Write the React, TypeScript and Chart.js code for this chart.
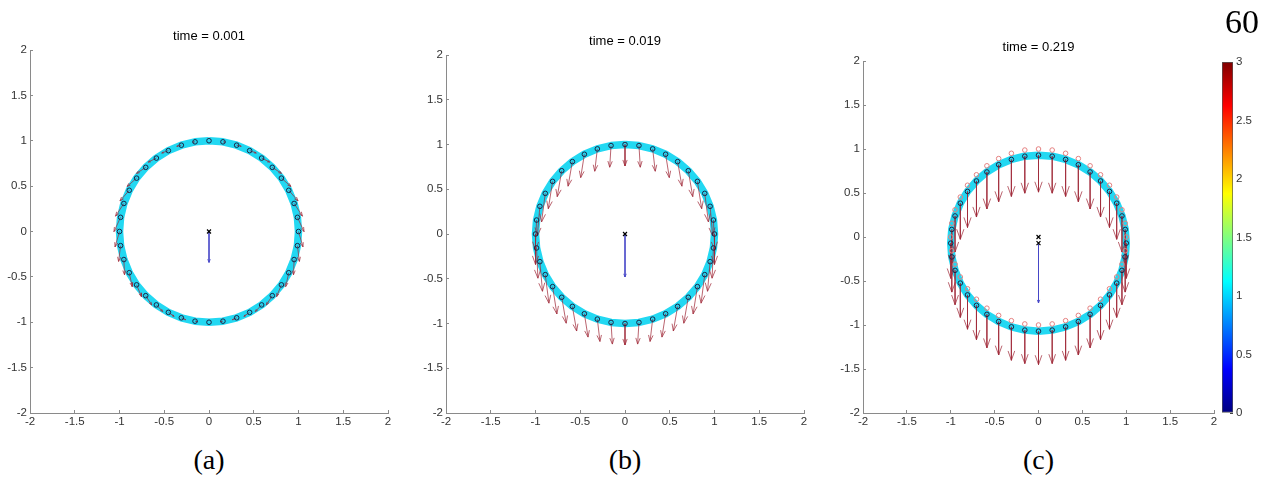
import React, { useEffect, useRef } from "react";
import { Chart, registerables } from "chart.js";

Chart.register(...registerables);

// ---------- data ----------
const AXIS_TICKS = [-2, -1.5, -1, -0.5, 0, 0.5, 1, 1.5, 2];
const CBAR_TICKS = [0, 0.5, 1, 1.5, 2, 2.5, 3];
const CBAR_VALUE = [3];
const TITLES = ["time = 0.001", "time = 0.019", "time = 0.219"];
const CAPTIONS = ["(a)", "(b)", "(c)"];
const CORNER_LABEL = "60";

// marker positions on the ring (initial, unit circle)
const ringX = [0, 0.156, 0.309, 0.454, 0.588, 0.707, 0.809, 0.891, 0.951, 0.988, 1, 0.988, 0.951, 0.891, 0.809, 0.707, 0.588, 0.454, 0.309, 0.156, 0, -0.156, -0.309, -0.454, -0.588, -0.707, -0.809, -0.891, -0.951, -0.988, -1, -0.988, -0.951, -0.891, -0.809, -0.707, -0.588, -0.454, -0.309, -0.156];
const ringY = [1, 0.988, 0.951, 0.891, 0.809, 0.707, 0.588, 0.454, 0.309, 0.156, 0, -0.156, -0.309, -0.454, -0.588, -0.707, -0.809, -0.891, -0.951, -0.988, -1, -0.988, -0.951, -0.891, -0.809, -0.707, -0.588, -0.454, -0.309, -0.156, 0, 0.156, 0.309, 0.454, 0.588, 0.707, 0.809, 0.891, 0.951, 0.988];
// ring at time 0.219 (moved down)
const ringYc = [0.93, 0.918, 0.881, 0.821, 0.739, 0.637, 0.518, 0.384, 0.239, 0.086, -0.07, -0.226, -0.379, -0.524, -0.658, -0.777, -0.879, -0.961, -1.021, -1.058, -1.07, -1.058, -1.021, -0.961, -0.879, -0.777, -0.658, -0.524, -0.379, -0.226, -0.07, 0.086, 0.239, 0.384, 0.518, 0.637, 0.739, 0.821, 0.881, 0.918];

// red arrows (vector components)
const arrowDxA = [0, 0.026, 0.051, 0.074, 0.091, 0.103, 0.107, 0.104, 0.093, 0.074, 0.05, 0.022, -0.007, -0.033, -0.054, -0.067, -0.071, -0.064, -0.049, -0.026, 0, 0.026, 0.049, 0.064, 0.071, 0.067, 0.054, 0.033, 0.007, -0.022, -0.05, -0.074, -0.093, -0.104, -0.107, -0.103, -0.091, -0.074, -0.051, -0.026];
const arrowDyA = [0, -0.003, -0.012, -0.026, -0.045, -0.067, -0.092, -0.117, -0.14, -0.158, -0.17, -0.174, -0.168, -0.153, -0.13, -0.103, -0.073, -0.044, -0.021, -0.005, 0, -0.005, -0.021, -0.044, -0.073, -0.103, -0.13, -0.153, -0.168, -0.174, -0.17, -0.158, -0.14, -0.117, -0.092, -0.067, -0.045, -0.026, -0.012, -0.003];

const arrowDxB = [0, 0.015, 0.029, 0.041, 0.048, 0.05, 0.048, 0.041, 0.029, 0.015, 0, -0.015, -0.029, -0.041, -0.048, -0.05, -0.048, -0.041, -0.029, -0.015, 0, 0.015, 0.029, 0.041, 0.048, 0.05, 0.048, 0.041, 0.029, 0.015, 0, -0.015, -0.029, -0.041, -0.048, -0.05, -0.048, -0.041, -0.029, -0.015];
const arrowDyB = [-0.24, -0.242, -0.25, -0.261, -0.275, -0.29, -0.306, -0.319, -0.331, -0.338, -0.34, -0.338, -0.331, -0.319, -0.306, -0.29, -0.275, -0.261, -0.25, -0.242, -0.24, -0.242, -0.25, -0.261, -0.275, -0.29, -0.306, -0.319, -0.331, -0.338, -0.34, -0.338, -0.331, -0.319, -0.306, -0.29, -0.275, -0.261, -0.25, -0.242];

const arrowDxC = [0, 0, 0, 0, 0, 0, 0, 0, 0, 0, 0, 0, 0, 0, 0, 0, 0, 0, 0, 0, 0, 0, 0, 0, 0, 0, 0, 0, 0, 0, 0, 0, 0, 0, 0, 0, 0, 0, 0, 0];
const arrowDyC = [-0.42, -0.42, -0.42, -0.42, -0.42, -0.41, -0.41, -0.41, -0.41, -0.4, -0.4, -0.4, -0.39, -0.39, -0.39, -0.39, -0.38, -0.38, -0.38, -0.38, -0.38, -0.38, -0.38, -0.38, -0.38, -0.39, -0.39, -0.39, -0.39, -0.4, -0.4, -0.4, -0.41, -0.41, -0.41, -0.41, -0.42, -0.42, -0.42, -0.42];

// centroid markers and centroid velocity arrows
const centroidXA = [0];
const centroidYA = [0];
const centroidXB = [0];
const centroidYB = [0];
const centroidXC = [0, 0];
const centroidYC = [0, -0.07];
const velXA = [0], velYA = [0], velDxA = [0], velDyA = [-0.34];
const velXB = [0], velYB = [0], velDxB = [0], velDyB = [-0.48];
const velXC = [0], velYC = [-0.07], velDxC = [0], velDyC = [-0.68];

// ---------- styles ----------
const FONT = "'Liberation Sans', Arial, Helvetica, sans-serif";
const SERIF = "'Liberation Serif', 'Times New Roman', serif";
const RING_COLOR = "rgb(34,216,242)";
const ARROW_COLOR = "rgba(160,40,55,0.72)";
const VEL_COLOR = "rgba(70,70,200,0.85)";
const MARKER_COLOR = "#1b2648";
const PINK = "rgb(228,128,128)";
const AXIS_COLOR = "#8a8a8a";
const TICK_TEXT = "#333";
const JET = [
  [0, "#00007F"],
  [0.125, "#0000FF"],
  [0.375, "#00FFFF"],
  [0.625, "#FFFF00"],
  [0.875, "#FF0000"],
  [1, "#7F0000"],
] as const;

type P = { x: number | null; y: number | null };

function pts(xs: number[], ys: number[]): P[] {
  return xs.map((x, i) => ({ x, y: ys[i] }));
}

function closedLoop(xs: number[], ys: number[]): P[] {
  const p = pts(xs, ys);
  p.push({ x: xs[0], y: ys[0] });
  return p;
}

function arrows(
  xs: number[], ys: number[], dxs: number[], dys: number[],
  headFrac: number, widthFrac: number, fixedHead?: [number, number]
): P[] {
  const out: P[] = [];
  for (let i = 0; i < xs.length; i++) {
    const dx = dxs[i], dy = dys[i];
    const L = Math.hypot(dx, dy);
    if (L < 1e-6) continue;
    const x0 = xs[i], y0 = ys[i];
    const x1 = x0 + dx, y1 = y0 + dy;
    const ux = dx / L, uy = dy / L;
    const hl = fixedHead ? fixedHead[0] : headFrac * L;
    const hw = fixedHead ? fixedHead[1] : widthFrac * L;
    const bx = x1 - ux * hl, by = y1 - uy * hl;
    const px = -uy, py = ux;
    out.push(
      { x: x0, y: y0 }, { x: x1, y: y1 }, { x: null, y: null },
      { x: bx + px * hw, y: by + py * hw }, { x: x1, y: y1 },
      { x: bx - px * hw, y: by - py * hw }, { x: null, y: null }
    );
  }
  return out;
}

type PanelSpec = {
  title: string;
  caption: string;
  plotLeft: number;
  plotRight: number;
  plotTop: number;
  titleY: number;
  ringYs: number[];
  dx: number[];
  dy: number[];
  cx: number[];
  cy: number[];
  vel: [number[], number[], number[], number[]];
  pink: boolean;
};

const PLOT_BOTTOM = 413;
const Y_AXIS_W = 30;
const X_AXIS_H = 27;
const RIGHT_PAD = 22;

const PANELS: PanelSpec[] = [
  { title: TITLES[0], caption: CAPTIONS[0], plotLeft: 30, plotRight: 388, plotTop: 50, titleY: 36, ringYs: ringY, dx: arrowDxA, dy: arrowDyA, cx: centroidXA, cy: centroidYA, vel: [velXA, velYA, velDxA, velDyA], pink: false },
  { title: TITLES[1], caption: CAPTIONS[1], plotLeft: 446, plotRight: 804, plotTop: 55, titleY: 41, ringYs: ringY, dx: arrowDxB, dy: arrowDyB, cx: centroidXB, cy: centroidYB, vel: [velXB, velYB, velDxB, velDyB], pink: false },
  { title: TITLES[2], caption: CAPTIONS[2], plotLeft: 863, plotRight: 1214, plotTop: 61, titleY: 47, ringYs: ringYc, dx: arrowDxC, dy: arrowDyC, cx: centroidXC, cy: centroidYC, vel: [velXC, velYC, velDxC, velDyC], pink: true },
];

function axisCommon(isX: boolean): any {
  return {
    type: "linear",
    min: -2,
    max: 2,
    z: 1,
    afterBuildTicks: (s: any) => {
      s.ticks = AXIS_TICKS.map((v) => ({ value: v }));
    },
    afterFit: (s: any) => {
      if (isX) s.height = X_AXIS_H;
      else s.width = Y_AXIS_W;
    },
    ticks: {
      callback: (v: any) => String(v),
      font: { family: FONT, size: 11.5 },
      color: TICK_TEXT,
      padding: isX ? 5 : 6,
      autoSkip: false,
      maxRotation: 0,
      minRotation: 0,
    },
    grid: { drawOnChartArea: false, drawTicks: true, tickLength: -3, color: AXIS_COLOR, lineWidth: 1 },
    border: { display: true, color: AXIS_COLOR, width: 1 },
  };
}

function panelConfig(sp: PanelSpec): any {
  const lineH = 13 * 1.2;
  const datasets: any[] = [
    {
      label: "ring",
      data: closedLoop(ringX, sp.ringYs),
      borderColor: RING_COLOR,
      borderWidth: 7.5,
      pointRadius: 0,
      tension: 0,
      borderJoinStyle: "round",
      fill: false,
      order: 5,
    },
    {
      label: "forces",
      data: arrows(ringX, sp.ringYs, sp.dx, sp.dy, 0.28, 0.1),
      borderColor: ARROW_COLOR,
      borderWidth: 1,
      pointRadius: 0,
      spanGaps: false,
      fill: false,
      order: 3,
    },
    {
      label: "velocity",
      data: arrows(sp.vel[0], sp.vel[1], sp.vel[2], sp.vel[3], 0, 0, [0.035, 0.014]),
      borderColor: VEL_COLOR,
      borderWidth: 1,
      pointRadius: 0,
      spanGaps: false,
      fill: false,
      order: 3,
    },
    {
      label: "nodes",
      data: pts(ringX, sp.ringYs),
      showLine: false,
      pointStyle: "circle",
      pointRadius: 2.3,
      pointBorderWidth: 1,
      pointBorderColor: MARKER_COLOR,
      pointBackgroundColor: "rgba(0,0,0,0)",
      order: 0,
    },
    {
      label: "centroid",
      data: pts(sp.cx, sp.cy),
      showLine: false,
      pointStyle: "crossRot",
      pointRadius: 2.8,
      pointBorderWidth: 1.2,
      pointBorderColor: "#000",
      order: 0,
    },
  ];
  if (sp.pink) {
    datasets.push({
      label: "initial",
      data: pts(ringX, ringY),
      showLine: false,
      pointStyle: "circle",
      pointRadius: 2.3,
      pointBorderWidth: 1,
      pointBorderColor: PINK,
      pointBackgroundColor: "rgba(0,0,0,0)",
      order: 1,
    });
  }
  return {
    type: "line",
    data: { datasets },
    options: {
      responsive: false,
      maintainAspectRatio: false,
      animation: false,
      events: [],
      layout: { padding: { left: 0, right: RIGHT_PAD, top: 0, bottom: 0 } },
      plugins: {
        legend: { display: false },
        tooltip: { enabled: false },
        title: {
          display: true,
          text: sp.title,
          fullSize: false,
          color: "#000",
          font: { family: FONT, size: 13, weight: "normal", lineHeight: 1.2 },
          padding: { top: sp.titleY - lineH / 2, bottom: sp.plotTop - sp.titleY - lineH / 2 },
        },
      },
      scales: {
        x: { ...axisCommon(true), position: "bottom" },
        y: { ...axisCommon(false), position: "left" },
      },
    },
  };
}

function Panel({ sp }: { sp: PanelSpec }) {
  const ref = useRef<HTMLCanvasElement | null>(null);
  const left = sp.plotLeft - Y_AXIS_W;
  const width = sp.plotRight - sp.plotLeft + Y_AXIS_W + RIGHT_PAD;
  const height = PLOT_BOTTOM + X_AXIS_H;
  useEffect(() => {
    const chart = new Chart(ref.current as HTMLCanvasElement, panelConfig(sp));
    return () => chart.destroy();
  }, []);
  return (
    <canvas
      ref={ref}
      width={width}
      height={height}
      style={{ position: "absolute", left, top: 0, width, height }}
    />
  );
}

function ColorBar() {
  const ref = useRef<HTMLCanvasElement | null>(null);
  const left = 1210, top = 40, width = 55, height = 390;
  useEffect(() => {
    const chart = new Chart(ref.current as HTMLCanvasElement, {
      type: "bar",
      data: {
        labels: [""],
        datasets: [
          {
            data: CBAR_VALUE,
            backgroundColor: (ctx: any) => {
              const ca = ctx.chart.chartArea;
              if (!ca) return "#00FFFF";
              const g = ctx.chart.ctx.createLinearGradient(0, ca.bottom, 0, ca.top);
              JET.forEach(([s, c]) => g.addColorStop(s, c));
              return g;
            },
            borderColor: "#555",
            borderWidth: 1,
            borderSkipped: false,
            barPercentage: 1,
            categoryPercentage: 1,
          } as any,
        ],
      },
      options: {
        responsive: false,
        maintainAspectRatio: false,
        animation: false,
        events: [],
        layout: { padding: { left: 12, top: 22, bottom: 17, right: 0 } },
        plugins: { legend: { display: false }, tooltip: { enabled: false } },
        scales: {
          x: { display: false },
          y: {
            position: "right",
            min: 0,
            max: 3,
            z: 1,
            afterBuildTicks: (s: any) => {
              s.ticks = CBAR_TICKS.map((v) => ({ value: v }));
            },
            afterFit: (s: any) => {
              s.width = 32;
            },
            ticks: {
              callback: (v: any) => String(v),
              font: { family: FONT, size: 11.5 },
              color: TICK_TEXT,
              padding: 6,
              autoSkip: false,
            },
            grid: { drawOnChartArea: false, drawTicks: true, tickLength: -3, color: "#444" },
            border: { display: false },
          },
        },
      } as any,
    });
    return () => chart.destroy();
  }, []);
  return (
    <canvas
      ref={ref}
      width={width}
      height={height}
      style={{ position: "absolute", left, top, width, height }}
    />
  );
}

export default function App() {
  return (
    <div
      style={{
        position: "fixed",
        left: 0,
        top: 0,
        width: 1265,
        height: 477,
        background: "#fff",
        overflow: "hidden",
      }}
    >
      {PANELS.map((sp, i) => (
        <Panel key={i} sp={sp} />
      ))}
      <ColorBar />
      {PANELS.map((sp, i) => (
        <div
          key={"cap" + i}
          style={{
            position: "absolute",
            left: (sp.plotLeft + sp.plotRight) / 2 - 50,
            top: 446,
            width: 100,
            textAlign: "center",
            fontFamily: SERIF,
            fontSize: 28,
            lineHeight: 1,
            color: "#000",
          }}
        >
          {sp.caption}
        </div>
      ))}
      <div
        style={{
          position: "absolute",
          left: 1200,
          top: 5,
          width: 59,
          textAlign: "right",
          fontFamily: SERIF,
          fontSize: 34,
          lineHeight: 1,
          color: "#000",
        }}
      >
        {CORNER_LABEL}
      </div>
    </div>
  );
}
